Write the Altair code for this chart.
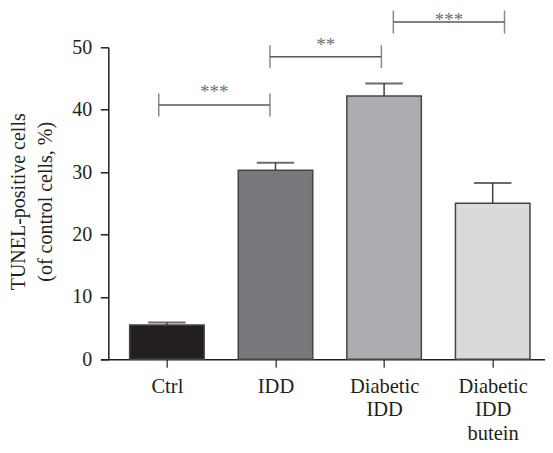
import json
import altair as alt
import pandas as pd

# ---- data ----
categories = ["Ctrl", "IDD", "Diabetic IDD", "Diabetic IDD butein"]
means = [5.5, 30.3, 42.2, 25.0]
errors = [0.4, 1.2, 2.0, 3.25]
bar_colors = ["#231f20", "#77787b", "#acadb0", "#d9dadb"]

bracket_start = [-0.075, 0.949, 2.085]
bracket_end = [0.949, 1.975, 3.109]
bracket_y = [40.75, 48.5, 54.05]
star_labels = ["***", "**", "***"]
star_y = [43.47, 51.0, 55.02]

y_ticks = [0, 10, 20, 30, 40, 50]

FONT = "Liberation Serif"
INK = "#231f20"

bars = pd.DataFrame({
    "cat": categories,
    "idx": list(range(len(categories))),
    "mean": means,
    "top": [m + e for m, e in zip(means, errors)],
})
brk = pd.DataFrame({
    "start": bracket_start,
    "end": bracket_end,
    "h": bracket_y,
    "mid": [(a + b) / 2 for a, b in zip(bracket_start, bracket_end)],
    "star": star_labels,
    "sy": star_y,
})
ends = pd.DataFrame({
    "xe": bracket_start + bracket_end,
    "h": bracket_y + bracket_y,
})

xscale = alt.Scale(domain=[-0.5635, 3.4356], nice=False, zero=False)
yscale = alt.Scale(domain=[0, 50], nice=False)

label_expr = "split(" + json.dumps(categories) + "[datum.value], ' ')"

x_axis = alt.Axis(
    values=[0, 1, 2, 3], title=None, labelExpr=label_expr, grid=False,
    tickSize=8, tickWidth=1.5, tickColor="#4d4d4f",
    domainColor=INK, domainWidth=1.5,
    labelFont=FONT, labelFontSize=20.5, labelColor=INK,
    labelPadding=9.5, labelLineHeight=23.2, labelBaseline="top",
)
y_axis = alt.Axis(
    values=y_ticks, grid=False, offset=-7.6,
    title=["TUNEL-positive cells", "(of control cells, %)"],
    titleFont=FONT, titleFontSize=20, titleFontWeight="normal", titleColor=INK,
    titleLineHeight=26.5, titleX=-89.5, titleY=154, titleAngle=270,
    titleAlign="center", titleBaseline="middle",
    tickSize=8, tickWidth=1.5, tickColor=INK,
    domainColor=INK, domainWidth=1.5,
    labelFont=FONT, labelFontSize=20, labelColor=INK, labelPadding=8.6,
)


def X(field):
    return alt.X(field, scale=xscale, axis=x_axis)


def Y(field):
    return alt.Y(field, scale=yscale, axis=y_axis)


bar_layer = alt.Chart(bars).mark_bar(size=74.5, stroke="#454547", strokeWidth=1.5).encode(
    x=X("idx:Q"),
    y=Y("mean:Q"),
    color=alt.Color("cat:N", scale=alt.Scale(domain=categories, range=bar_colors), legend=None),
)
stem = alt.Chart(bars).mark_rule(color="#414042", strokeWidth=1.5).encode(
    x=X("idx:Q"),
    y=Y("mean:Q"),
    y2="top:Q",
)
cap = alt.Chart(bars).mark_tick(orient="horizontal", size=37.5, thickness=2, color="#2d2d2f").encode(
    x=X("idx:Q"),
    y=Y("top:Q"),
)
hline = alt.Chart(brk).mark_rule(color="#58595b", strokeWidth=1.5).encode(
    x=X("start:Q"),
    x2="end:Q",
    y=Y("h:Q"),
)
vticks = alt.Chart(ends).mark_tick(orient="vertical", size=23, thickness=1.5, color="#58595b").encode(
    x=X("xe:Q"),
    y=Y("h:Q"),
)
stars = alt.Chart(brk).mark_text(
    font=FONT, fontSize=19, color="#6d6e71", baseline="alphabetic", align="center", dy=10,
).encode(
    x=X("mid:Q"),
    y=Y("sy:Q"),
    text="star:N",
)

chart = alt.layer(bar_layer, stem, cap, hline, vticks, stars).properties(
    width=444.3,
    height=312,
    autosize=alt.AutoSizeParams(type="none"),
    padding={"left": 92.7, "top": 39.3, "right": 0, "bottom": 85.5},
    background="white",
).configure_view(stroke=None)

chart.save("out.html", embed_options={"renderer": "svg", "actions": False})
